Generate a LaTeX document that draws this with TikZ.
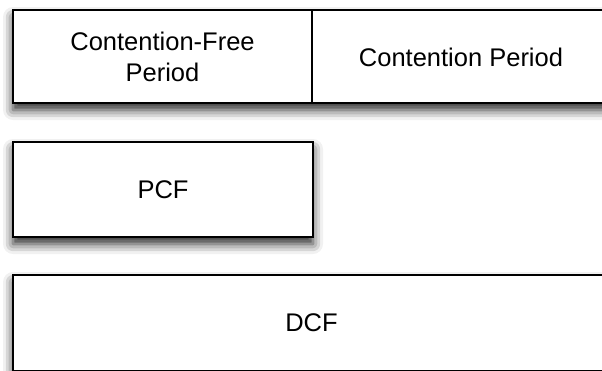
\documentclass[tikz,border=0pt]{standalone}
\usepackage{fontspec}
\setmainfont{Liberation Sans}
\usetikzlibrary{shadows.blur}
\tikzset{framebox/.style={draw=black, line width=2pt, fill=white, inner sep=0pt,
    blur shadow={shadow xshift=0pt, shadow yshift=-7pt,
      shadow blur radius=10pt, shadow opacity=85}},
    label text/.style={font=\fontsize{25.5}{31.5}\selectfont, align=center, inner sep=0pt},
    }

\begin{document}
\begin{tikzpicture}[x=1pt, y=-1pt]
	\useasboundingbox (0,0) rectangle (602,370);
	% periods
	\node[framebox, minimum width=597pt, minimum height=93pt] (period) at (311.5,56.5) {};
	\node[label text] (cfp) at (162.5,57) {Contention-Free\\Period};
	\node[label text] (cp) at (461,57.5) {Contention Period};
	\coordinate (split) at (312,10);
	\draw[line width=2pt] (split) -- (split |- period.south);
	% functions
	\node[framebox, label text, minimum width=300pt, minimum height=95pt] (pcf) at (163,189.5) {PCF};
	\node[framebox, label text, minimum width=597pt, minimum height=96pt] (dcf) at (311.5,323) {DCF};
\end{tikzpicture}
\end{document}
